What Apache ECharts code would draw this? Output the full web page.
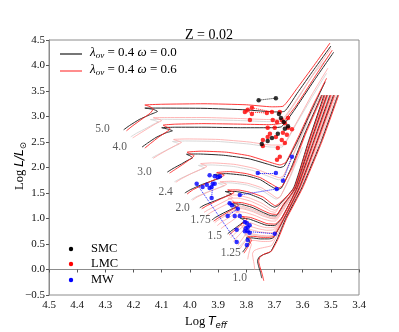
<!DOCTYPE html>
<html><head><meta charset="utf-8">
<script src="https://cdn.jsdelivr.net/npm/echarts@6/dist/echarts.min.js"></script>
<style>html,body{margin:0;padding:0;background:#fff}#c{width:399px;height:332px}</style>
</head><body><div id="c"></div>
<script>
// ---- Tracks (logTeff, logL) : omega = 0.0 (black) ----
const b50=[[4.235,2.74],[4.215,2.82],[4.18,2.94],[4.14,3.04],[4.115,3.10],[4.13,3.14],[4.16,3.165],[4.10,3.165],[3.95,3.16],[3.80,3.13],[3.70,3.09],[3.665,3.10],[3.62,3.45],[3.56,3.92],[3.50,4.38]];
const b40=[[4.17,2.40],[4.15,2.48],[4.12,2.59],[4.085,2.68],[4.062,2.72],[4.08,2.755],[4.10,2.78],[4.05,2.79],[3.95,2.79],[3.82,2.78],[3.72,2.78],[3.675,2.80],[3.63,3.12],[3.56,3.70],[3.49,4.26]];
const b30=[[4.08,1.91],[4.06,1.98],[4.03,2.07],[4.005,2.15],[3.99,2.19],[4.0,2.23],[4.012,2.26],[3.97,2.265],[3.88,2.24],[3.79,2.17],[3.72,2.06],[3.68,2.00],[3.665,2.03],[3.62,2.50],[3.57,3.10],[3.52,3.68]];
const b24=[[4.018,1.50],[4.0,1.56],[3.96,1.66],[3.91,1.76],[3.887,1.81],[3.90,1.84],[3.915,1.86],[3.87,1.88],[3.80,1.84],[3.75,1.76],[3.715,1.64],[3.69,1.57],[3.675,1.60],[3.64,2.0],[3.59,2.7],[3.532,3.42]];
const b20=[[3.965,1.21],[3.95,1.26],[3.91,1.35],[3.87,1.44],[3.852,1.48],[3.865,1.51],[3.875,1.53],[3.84,1.53],[3.79,1.48],[3.745,1.38],[3.715,1.26],[3.70,1.22],[3.685,1.26],[3.632,1.6],[3.58,2.5],[3.524,3.42]];
const b175=[[3.922,0.97],[3.91,1.02],[3.88,1.11],[3.85,1.19],[3.835,1.23],[3.845,1.27],[3.855,1.29],[3.82,1.28],[3.78,1.22],[3.745,1.13],[3.715,1.06],[3.695,1.05],[3.67,1.25],[3.626,1.6],[3.572,2.5],[3.514,3.42]];
const b15=[[3.866,0.70],[3.855,0.75],[3.835,0.83],[3.815,0.91],[3.805,0.95],[3.815,0.99],[3.822,1.01],[3.79,0.99],[3.76,0.93],[3.73,0.87],[3.70,0.86],[3.675,1.0],[3.62,1.6],[3.562,2.5],[3.503,3.42]];
const b125=[[3.813,0.34],[3.805,0.40],[3.795,0.48],[3.788,0.55],[3.792,0.59],[3.80,0.62],[3.78,0.62],[3.75,0.60],[3.72,0.60],[3.705,0.62],[3.68,0.85],[3.612,1.6],[3.55,2.5],[3.49,3.42]];
const b10=[[3.745,-0.17],[3.75,-0.05],[3.757,0.08],[3.76,0.17],[3.755,0.24],[3.74,0.29],[3.72,0.33],[3.712,0.36],[3.69,0.6],[3.66,1.0],[3.603,1.6],[3.535,2.5],[3.475,3.42]];
// ---- omega = 0.6 (red) ----
const r50=[[4.225,2.72],[4.205,2.81],[4.17,2.95],[4.14,3.07],[4.13,3.15],[4.145,3.20],[4.16,3.225],[4.10,3.24],[3.95,3.25],[3.80,3.23],[3.71,3.19],[3.67,3.20],[3.62,3.55],[3.56,4.0],[3.503,4.44]];
const r40=[[4.16,2.38],[4.14,2.47],[4.11,2.60],[4.08,2.71],[4.07,2.76],[4.085,2.80],[4.095,2.83],[4.05,2.85],[3.95,2.86],[3.82,2.85],[3.72,2.84],[3.675,2.87],[3.625,3.2],[3.56,3.75],[3.495,4.3]];
const r30=[[4.072,1.89],[4.05,1.97],[4.02,2.08],[3.995,2.18],[3.985,2.23],[4.0,2.27],[4.01,2.30],[3.96,2.32],[3.87,2.30],[3.79,2.23],[3.72,2.11],[3.68,2.05],[3.66,2.10],[3.615,2.6],[3.565,3.2],[3.515,3.75]];
const r24=[[4.01,1.48],[3.99,1.56],[3.95,1.67],[3.90,1.79],[3.878,1.85],[3.89,1.88],[3.905,1.90],[3.86,1.92],[3.80,1.88],[3.75,1.80],[3.712,1.68],[3.685,1.60],[3.672,1.64],[3.637,2.0],[3.587,2.7],[3.53,3.42]];
const r20=[[3.958,1.19],[3.94,1.25],[3.90,1.36],[3.86,1.46],[3.843,1.51],[3.855,1.54],[3.866,1.56],[3.83,1.56],[3.785,1.51],[3.74,1.42],[3.712,1.30],[3.697,1.25],[3.682,1.30],[3.63,1.6],[3.578,2.5],[3.521,3.42]];
const r175=[[3.915,0.95],[3.90,1.01],[3.87,1.11],[3.84,1.21],[3.827,1.26],[3.838,1.30],[3.848,1.32],[3.815,1.31],[3.775,1.25],[3.742,1.16],[3.712,1.09],[3.692,1.08],[3.668,1.28],[3.624,1.6],[3.57,2.5],[3.512,3.42]];
const r15=[[3.86,0.68],[3.848,0.74],[3.828,0.83],[3.808,0.93],[3.798,0.98],[3.808,1.02],[3.816,1.04],[3.785,1.02],[3.755,0.96],[3.727,0.90],[3.698,0.89],[3.672,1.03],[3.618,1.6],[3.56,2.5],[3.5,3.42]];
const r125=[[3.808,0.32],[3.80,0.39],[3.79,0.48],[3.782,0.57],[3.787,0.62],[3.795,0.65],[3.775,0.65],[3.745,0.63],[3.718,0.63],[3.702,0.65],[3.678,0.88],[3.61,1.6],[3.548,2.5],[3.487,3.42]];
const r10=[[3.738,-0.22],[3.744,-0.08],[3.752,0.06],[3.756,0.16],[3.752,0.24],[3.737,0.30],[3.718,0.34],[3.709,0.37],[3.687,0.6],[3.657,1.0],[3.6,1.6],[3.532,2.5],[3.472,3.42]];
// ---- intermediate masses (light) ----
const p45=[[4.203,2.58],[4.18,2.66],[4.145,2.78],[4.115,2.88],[4.10,2.92],[4.115,2.955],[4.13,2.975],[4.08,2.98],[3.95,2.98],[3.82,2.96],[3.72,2.94],[3.67,2.96],[3.625,3.3],[3.56,3.85],[3.50,4.33]];
const g45=[[4.21,2.60],[4.19,2.67],[4.155,2.77],[4.125,2.86],[4.11,2.89],[4.125,2.92],[4.14,2.94],[4.09,2.945],[3.95,2.94],[3.82,2.92],[3.72,2.90],[3.672,2.92],[3.628,3.25],[3.565,3.8],[3.505,4.2]];
const p35=[[4.13,2.18],[4.11,2.25],[4.075,2.36],[4.045,2.45],[4.03,2.49],[4.045,2.525],[4.058,2.55],[4.01,2.56],[3.90,2.55],[3.79,2.50],[3.71,2.44],[3.672,2.44],[3.625,2.85],[3.565,3.45],[3.51,3.95]];
const g35=[[4.135,2.19],[4.115,2.25],[4.08,2.35],[4.05,2.43],[4.038,2.46],[4.05,2.49],[4.062,2.51],[4.015,2.52],[3.90,2.51],[3.79,2.46],[3.71,2.40],[3.674,2.40],[3.628,2.8],[3.57,3.35],[3.515,3.85]];
const p27=[[4.05,1.71],[4.03,1.78],[3.995,1.88],[3.955,1.98],[3.94,2.02],[3.952,2.055],[3.962,2.075],[3.92,2.09],[3.84,2.06],[3.77,1.98],[3.715,1.86],[3.682,1.80],[3.668,1.84],[3.63,2.3],[3.58,2.95],[3.535,3.42]];
const g27=[[4.055,1.72],[4.035,1.78],[4.0,1.87],[3.962,1.96],[3.948,1.99],[3.96,2.02],[3.97,2.04],[3.925,2.05],[3.845,2.02],[3.775,1.94],[3.718,1.82],[3.685,1.76],[3.67,1.80],[3.632,2.25],[3.582,2.9]];
const p22=[[3.99,1.36],[3.975,1.42],[3.935,1.52],[3.89,1.62],[3.87,1.67],[3.882,1.70],[3.893,1.72],[3.855,1.73],[3.795,1.69],[3.745,1.60],[3.712,1.48],[3.69,1.40],[3.678,1.44],[3.643,1.85],[3.593,2.6],[3.527,3.42]];
const g22=[[3.995,1.37],[3.98,1.42],[3.942,1.51],[3.898,1.60],[3.878,1.64],[3.89,1.67],[3.9,1.69],[3.862,1.70],[3.8,1.66],[3.75,1.57],[3.716,1.45],[3.694,1.38],[3.68,1.42],[3.645,1.8],[3.6,2.4]];
const p19=[[3.95,1.12],[3.935,1.17],[3.90,1.27],[3.865,1.37],[3.848,1.41],[3.86,1.44],[3.87,1.46],[3.835,1.46],[3.788,1.40],[3.745,1.30],[3.714,1.19],[3.698,1.16],[3.68,1.25],[3.63,1.6],[3.578,2.5],[3.52,3.42]];
const p185=[[3.94,1.06],[3.928,1.11],[3.895,1.21],[3.862,1.30],[3.845,1.34],[3.856,1.38],[3.865,1.40],[3.83,1.40],[3.785,1.34],[3.745,1.24],[3.714,1.14],[3.697,1.12],[3.676,1.32],[3.628,1.6],[3.575,2.5],[3.517,3.42]];
const p17=[[3.912,0.92],[3.9,0.97],[3.872,1.06],[3.845,1.15],[3.832,1.19],[3.842,1.23],[3.85,1.25],[3.816,1.24],[3.778,1.18],[3.744,1.10],[3.713,1.03],[3.695,1.02],[3.672,1.2],[3.625,1.6],[3.57,2.5],[3.513,3.42]];
const p165=[[3.903,0.86],[3.89,0.92],[3.864,1.01],[3.84,1.10],[3.828,1.14],[3.838,1.18],[3.846,1.20],[3.812,1.19],[3.775,1.13],[3.742,1.05],[3.712,1.0],[3.696,0.99],[3.671,1.17],[3.624,1.6],[3.569,2.5],[3.511,3.42]];
const p16=[[3.89,0.80],[3.876,0.86],[3.852,0.95],[3.83,1.04],[3.82,1.08],[3.83,1.12],[3.838,1.14],[3.805,1.12],[3.77,1.06],[3.74,0.99],[3.71,0.95],[3.697,0.95],[3.673,1.12],[3.622,1.6],[3.566,2.5],[3.508,3.42]];
const p145=[[3.855,0.62],[3.845,0.68],[3.827,0.77],[3.811,0.85],[3.808,0.89],[3.816,0.92],[3.788,0.92],[3.758,0.86],[3.729,0.82],[3.701,0.82],[3.676,0.98],[3.618,1.6],[3.559,2.5],[3.5,3.42]];
const p14=[[3.845,0.55],[3.835,0.62],[3.82,0.71],[3.808,0.79],[3.812,0.83],[3.818,0.86],[3.79,0.85],[3.758,0.80],[3.728,0.77],[3.702,0.78],[3.677,0.96],[3.616,1.6],[3.556,2.5],[3.497,3.42]];
const p135=[[3.83,0.47],[3.822,0.54],[3.81,0.63],[3.80,0.71],[3.803,0.75],[3.81,0.78],[3.785,0.78],[3.755,0.74],[3.725,0.72],[3.703,0.73],[3.678,0.93],[3.614,1.6],[3.553,2.5],[3.494,3.42]];
const p13=[[3.822,0.41],[3.814,0.48],[3.802,0.56],[3.794,0.63],[3.797,0.67],[3.804,0.70],[3.782,0.70],[3.752,0.67],[3.722,0.66],[3.704,0.68],[3.679,0.9],[3.613,1.6],[3.551,2.5],[3.492,3.42]];
const p12=[[3.795,0.2],[3.792,0.29],[3.787,0.4],[3.782,0.49],[3.786,0.53],[3.792,0.56],[3.772,0.57],[3.745,0.55],[3.72,0.55],[3.706,0.57],[3.685,0.8],[3.61,1.6],[3.545,2.5],[3.485,3.42]];
const p11=[[3.77,0.0],[3.772,0.1],[3.776,0.22],[3.778,0.31],[3.772,0.37],[3.755,0.41],[3.73,0.44],[3.71,0.47],[3.688,0.7],[3.658,1.05],[3.606,1.6],[3.54,2.5],[3.48,3.42]];
const g17=[[3.918,0.94],[3.905,0.99],[3.876,1.07],[3.85,1.14],[3.838,1.17],[3.848,1.21],[3.856,1.23],[3.82,1.22],[3.78,1.16],[3.746,1.08],[3.716,1.01],[3.698,1.0],[3.674,1.18],[3.628,1.55]];
const g13=[[3.826,0.43],[3.818,0.49],[3.806,0.56],[3.798,0.62],[3.801,0.66],[3.807,0.68],[3.785,0.68],[3.755,0.65],[3.725,0.64],[3.706,0.66],[3.681,0.88],[3.62,1.5]];

// ---- observations ----
const smc=[[3.756,3.32],[3.695,3.36],[3.684,3.05],[3.677,2.97],[3.667,2.89],[3.652,2.81],[3.663,2.76],[3.688,2.66],[3.709,2.58],[3.724,2.52],[3.745,2.46]];
const lmc=[[3.805,3.09],[3.795,3.13],[3.780,3.17],[3.780,3.05],[3.787,2.93],[3.727,3.07],[3.709,3.09],[3.681,3.09],[3.706,2.93],[3.691,2.89],[3.674,2.93],[3.663,2.87],[3.652,2.97],[3.724,2.78],[3.699,2.78],[3.716,2.66],[3.724,2.60],[3.695,2.60],[3.670,2.68],[3.652,2.78],[3.638,2.75],[3.674,2.54],[3.663,2.48],[3.688,2.38],[3.681,2.21],[3.691,2.15],[3.741,2.54],[3.741,2.42],[3.656,2.64]];
const mw=[[3.976,1.68],[3.955,1.62],[3.940,1.66],[3.930,1.60],[3.923,1.62],[3.919,1.68],[3.912,1.68],[3.930,1.85],[3.912,1.83],[3.901,1.81],[3.894,1.83],[3.923,1.40],[3.759,1.89],[3.695,1.89],[3.670,1.74],[3.692,1.58],[3.638,2.21],[3.823,1.46],[3.859,1.30],[3.851,1.26],[3.830,1.19],[3.866,1.05],[3.841,1.05],[3.823,1.05],[3.805,0.93],[3.798,0.91],[3.795,0.83],[3.802,0.81],[3.805,0.75],[3.795,0.75],[3.788,0.72],[3.834,0.78],[3.834,0.54],[3.795,0.58],[3.798,0.48],[3.699,0.70],[3.788,0.87]];
const smcLinks=[[[3.756,3.32],[3.695,3.36]]];
const lmcLinks=[[[3.805,3.09],[3.727,3.07]],[[3.780,3.17],[3.709,3.09]]];
const mwLinks=[[[3.759,1.89],[3.695,1.89]],[[3.670,1.74],[3.638,2.21]],[[3.823,1.46],[3.692,1.58]],[[3.805,0.75],[3.699,0.70]],[[3.976,1.68],[3.834,0.54]],[[3.919,1.68],[3.923,1.40]],[[3.859,1.30],[3.830,1.19]],[[3.830,1.19],[3.866,1.05]]];

// ---- mass labels ----
const massNames=['5.0','4.0','3.0','2.4','2.0','1.75','1.5','1.25','1.0'];
const massPos=[[4.310,2.755],[4.249,2.402],[4.161,1.912],[4.086,1.520],[4.026,1.206],[3.962,0.971],[3.912,0.657],[3.855,0.324],[3.823,-0.167]];

const blackTracks=[b50,b40,b30,b24,b20,b175,b15,b125,b10];
const redTracks=[r50,r40,r30,r24,r20,r175,r15,r125,r10];
const pinkTracks=[p45,p35,p27,p22,p19,p185,p17,p165,p16,p145,p14,p135,p13,p12,p11];
const grayTracks=[g45,g35,g27,g22,g17,g13];

const SERIF='"Liberation Serif","DejaVu Serif",serif';
const SANS='"DejaVu Sans",sans-serif';
function trk(d,color,w,z){return {type:'line',data:d,showSymbol:false,symbol:'none',smooth:0.15,lineStyle:{color:color,width:w},z:z,silent:true,animation:false};}
const series=[];
grayTracks.forEach(d=>series.push(trk(d,'#d4d4d4',0.9,1)));
pinkTracks.forEach(d=>series.push(trk(d,'#ffa3a3',0.8,2)));
blackTracks.forEach(d=>series.push(trk(d,'#2a2a2a',1.0,3)));
redTracks.forEach(d=>series.push(trk(d,'#ff2424',0.9,4)));
function links(arr,color){return {type:'lines',coordinateSystem:'cartesian2d',polyline:false,data:arr.map(c=>({coords:c})),lineStyle:{color:color,width:1,type:'dotted',opacity:0.9},z:5,silent:true,animation:false};}
series.push(links(smcLinks,'#000'));
series.push(links(lmcLinks,'#ff0000'));
series.push(links(mwLinks,'#0000ff'));
function pts(d,color){return {type:'scatter',data:d,symbolSize:4.5,itemStyle:{color:color},z:6,silent:true,animation:false};}
series.push(pts(lmc,'#ff0000'));
series.push(pts(smc,'#000000'));
series.push(pts(mw,'#0000ff'));
series.push({type:'scatter',data:massPos,symbolSize:0,z:7,silent:true,animation:false,
  label:{show:true,position:'inside',formatter:p=>massNames[p.dataIndex],color:'#333',fontSize:11.5,fontFamily:SERIF}});

const chart=echarts.init(document.getElementById('c'),null,{renderer:'canvas'});
const fmt=v=>v.toFixed(1).replace('-','\u2212');
chart.setOption({
  animation:false,
  title:{text:'Z = 0.02',left:204,top:23,textAlign:'center',textStyle:{fontFamily:SERIF,fontSize:14,fontWeight:'normal',color:'#000'}},
  grid:{left:49,right:40,top:40,bottom:37,show:true,borderColor:'#8c8c8c',borderWidth:1,backgroundColor:'transparent'},
  xAxis:{type:'value',min:3.4,max:4.5,interval:0.1,inverse:true,
    axisLine:{show:true,lineStyle:{color:'#8c8c8c'}},axisTick:{show:true,length:3,lineStyle:{color:'#555'}},
    splitLine:{show:false},axisLabel:{formatter:fmt,fontFamily:SERIF,fontSize:11,color:'#111',margin:5}},
  yAxis:{type:'value',min:-0.5,max:4.5,interval:0.5,
    axisLine:{show:true,lineStyle:{color:'#8c8c8c'}},axisTick:{show:true,length:3,lineStyle:{color:'#555'}},
    splitLine:{show:false},axisLabel:{formatter:fmt,fontFamily:SERIF,fontSize:11,color:'#111',margin:4}},
  graphic:[
    {type:'line',shape:{x1:60,y1:54,x2:82,y2:54},style:{stroke:'#1a1a1a',lineWidth:1.2},z:10},
    {type:'line',shape:{x1:60,y1:71,x2:82,y2:71},style:{stroke:'#ff4040',lineWidth:1.2},z:10},
    {type:'text',left:90,top:46,z:10,style:{text:'{i|λ}{s|ov}{n| = 0.4 }{i|ω}{n| = 0.0}',
      rich:{i:{fontFamily:SERIF,fontStyle:'italic',fontSize:13,lineHeight:16,fill:'#000'},n:{fontFamily:SERIF,fontSize:13,lineHeight:16,fill:'#000'},s:{fontFamily:SERIF,fontStyle:'italic',fontSize:9,lineHeight:9,verticalAlign:'bottom',fill:'#000'}}}},
    {type:'text',left:90,top:63,z:10,style:{text:'{i|λ}{s|ov}{n| = 0.4 }{i|ω}{n| = 0.6}',
      rich:{i:{fontFamily:SERIF,fontStyle:'italic',fontSize:13,lineHeight:16,fill:'#000'},n:{fontFamily:SERIF,fontSize:13,lineHeight:16,fill:'#000'},s:{fontFamily:SERIF,fontStyle:'italic',fontSize:9,lineHeight:9,verticalAlign:'bottom',fill:'#000'}}}},
    {type:'circle',shape:{cx:71,cy:249,r:2.2},style:{fill:'#000'},z:10},
    {type:'circle',shape:{cx:71,cy:264,r:2.2},style:{fill:'#ff0000'},z:10},
    {type:'circle',shape:{cx:71,cy:280,r:2.2},style:{fill:'#0000ff'},z:10},
    {type:'text',left:91,top:242,z:10,style:{text:'SMC',font:'12.5px '+SERIF,fill:'#000'}},
    {type:'text',left:91,top:257,z:10,style:{text:'LMC',font:'12.5px '+SERIF,fill:'#000'}},
    {type:'text',left:91,top:273,z:10,style:{text:'MW',font:'12.5px '+SERIF,fill:'#000'}},
    {type:'text',x:206,y:322,z:10,style:{text:'{n|Log }{i|T}{s|eff}',align:'center',verticalAlign:'middle',
      rich:{n:{fontFamily:SERIF,fontSize:12.5,lineHeight:16,fill:'#000'},i:{fontFamily:SANS,fontStyle:'italic',fontSize:12,lineHeight:16,fill:'#000'},s:{fontFamily:SANS,fontStyle:'italic',fontSize:8.5,lineHeight:9,verticalAlign:'bottom',fill:'#000'}}}},
    {type:'text',x:20,y:166,rotation:Math.PI/2,z:10,style:{text:'{n|Log }{i|L/L}{s|⊙}',align:'center',verticalAlign:'middle',
      rich:{n:{fontFamily:SERIF,fontSize:12.5,lineHeight:16,fill:'#000'},i:{fontFamily:SANS,fontStyle:'italic',fontSize:12,lineHeight:16,fill:'#000'},s:{fontFamily:SANS,fontSize:8.5,lineHeight:9,verticalAlign:'bottom',fill:'#000'}}}}
  ],
  series:series
});
</script></body></html>
